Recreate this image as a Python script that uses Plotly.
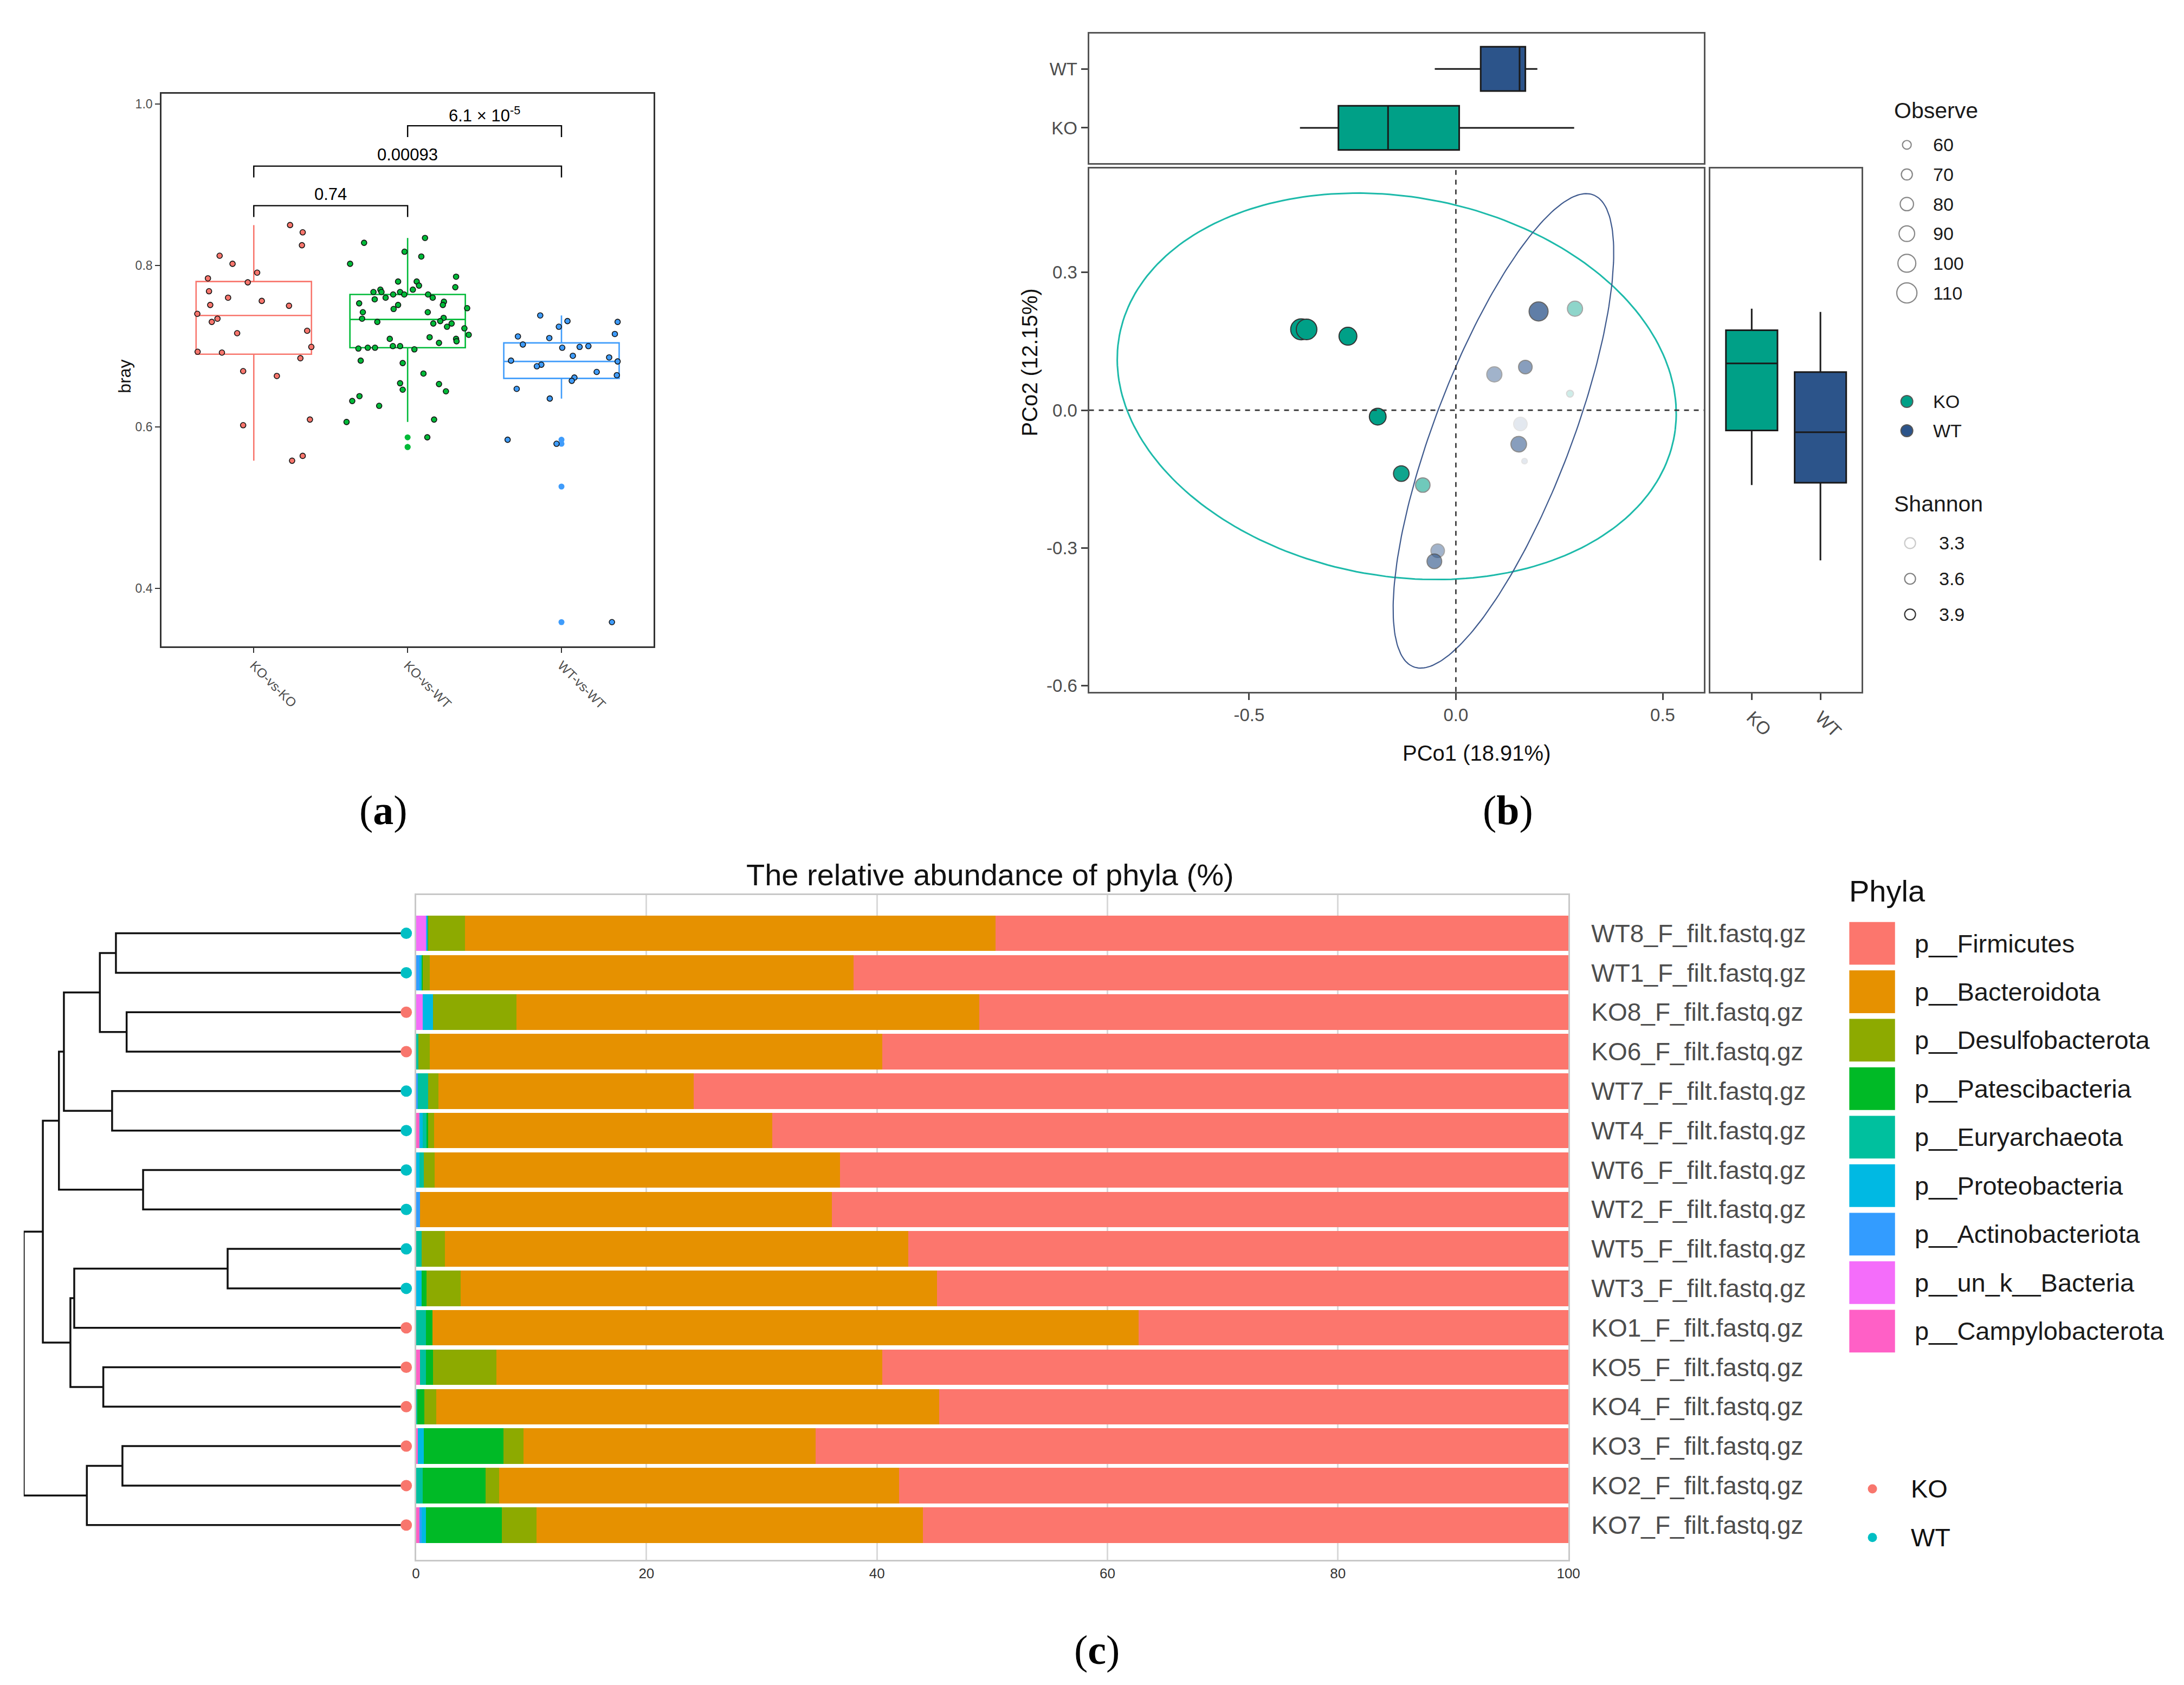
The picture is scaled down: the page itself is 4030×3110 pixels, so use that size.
import numpy as np
import plotly.graph_objects as go

W, H = 4030, 3110
FONT = "Liberation Sans"
GRAY = "#4D4D4D"

def dx(a, b):
    return [a / W, b / W]

def dy(top, bottom):
    return [1 - bottom / H, 1 - top / H]

# ---------------- Panel (a) data ----------------
a_groups = ["KO-vs-KO", "KO-vs-WT", "WT-vs-WT"]
a_colors = ["#F8766D", "#00BA38", "#3F9CFB"]
a_q1 = [0.690, 0.698, 0.660]
a_med = [0.738, 0.733, 0.681]
a_q3 = [0.780, 0.764, 0.704]
a_lo = [0.558, 0.606, 0.635]
a_hi = [0.850, 0.834, 0.738]

koko_dx = [0.236, 0.318, 0.313, -0.222, -0.138, 0.022, -0.298, -0.039, -0.291, -0.167, 0.052, -0.283, 0.229, -0.367,
           -0.236, -0.273, 0.347, -0.108, 0.374, -0.365, -0.207, 0.303, -0.069, 0.150, 0.365, -0.069, 0.318, 0.249]
koko_y = [0.850, 0.841, 0.825, 0.812, 0.802, 0.791, 0.784, 0.779, 0.768, 0.760, 0.756, 0.751, 0.750, 0.740,
          0.734, 0.730, 0.719, 0.716, 0.699, 0.693, 0.692, 0.685, 0.669, 0.663, 0.609, 0.602, 0.564, 0.558]
kowt_dx = [0.113, -0.283, -0.020, 0.089, -0.374, 0.315, -0.062, 0.059, 0.074, 0.310, 0.034, -0.177, -0.222, -0.170,
           -0.049, -0.094, -0.022, 0.133, 0.163, -0.143, -0.214, 0.236, -0.315, 0.229, -0.062, -0.091, 0.387, -0.291,
           0.131, 0.234, -0.296, -0.197, 0.212, 0.167, 0.286, 0.256, 0.369, 0.397, -0.116, 0.143, 0.315, 0.318, 0.204,
           -0.096, -0.049, -0.320, -0.259, -0.212, 0.044, -0.305, -0.032, 0.103, -0.049, 0.204, -0.032, 0.249, -0.313,
           -0.360, -0.185, -0.397, 0.172, 0.128]
kowt_y = [0.834, 0.828, 0.817, 0.811, 0.802, 0.786, 0.780, 0.780, 0.775, 0.773, 0.770, 0.770, 0.767, 0.767,
          0.767, 0.764, 0.764, 0.764, 0.760, 0.760, 0.758, 0.755, 0.753, 0.751, 0.751, 0.746, 0.747, 0.742,
          0.742, 0.735, 0.734, 0.730, 0.731, 0.728, 0.728, 0.724, 0.722, 0.714, 0.709, 0.711, 0.709, 0.706, 0.704,
          0.700, 0.700, 0.697, 0.698, 0.698, 0.696, 0.682, 0.679, 0.666, 0.654, 0.653, 0.646, 0.644, 0.638,
          0.632, 0.626, 0.606, 0.609, 0.587]
wtwt_dx = [-0.138, 0.039, 0.365, -0.017, 0.347, -0.283, -0.079, -0.251, 0.005, 0.118, 0.175, 0.074, 0.310, -0.328,
           0.365, -0.131, -0.160, 0.229, 0.360, 0.084, 0.067, -0.291, -0.076, -0.350, -0.032, 0.328]
wtwt_y = [0.738, 0.731, 0.730, 0.724, 0.715, 0.712, 0.710, 0.702, 0.698, 0.699, 0.700, 0.688, 0.686, 0.682,
          0.681, 0.677, 0.675, 0.668, 0.664, 0.661, 0.657, 0.647, 0.635, 0.584, 0.579, 0.358]
a_jit_dx = [koko_dx, kowt_dx, wtwt_dx]
a_jit_y = [koko_y, kowt_y, wtwt_y]
a_out_group = [1, 1, 1, 2, 2, 2, 2]
a_out_y = [0.587, 0.575, 0.575, 0.584, 0.579, 0.526, 0.358]

# significance brackets: (group from, group to, bracket y, label)
br_from = [0, 0, 1]
br_to = [1, 2, 2]
br_y = [0.874, 0.923, 0.973]
br_text = ["0.74", "0.00093", "6.1 \u00d7 10<sup>-5</sup>"]

# ---------------- Panel (b) data ----------------
b_groups = ["KO", "WT"]
b_colors = ["#00A087", "#2C548A"]
ell_colors = ["#1DBAAA", "#3F5A8E"]
ko_pc1 = [-0.374, -0.361, -0.261, -0.189, -0.132, -0.080, 0.288, 0.276]
ko_pc2 = [0.176, 0.176, 0.161, -0.014, -0.138, -0.163, 0.221, 0.036]
ko_obs = [114, 112, 100, 95, 90, 85, 88, 52]
ko_sha = [3.9, 3.9, 3.9, 3.9, 3.85, 3.55, 3.45, 3.25]
wt_pc1 = [0.200, 0.168, 0.093, 0.156, 0.152, 0.166, -0.044, -0.052]
wt_pc2 = [0.215, 0.094, 0.078, -0.030, -0.074, -0.111, -0.306, -0.329]
wt_obs = [105, 81, 88, 81, 90, 46, 81, 86]
wt_sha = [3.7, 3.55, 3.45, 3.2, 3.55, 3.2, 3.45, 3.6]
# confidence ellipses: centre, semi-axes, rotation (deg)
ell_cx = [-0.143, 0.115]
ell_cy = [0.052, -0.045]
ell_a = [0.680, 0.558]
ell_b = [0.414, 0.163]
ell_rot = [-8.0, 66.7]
# marginal box stats  (PCo1 by group, PCo2 by group)
pc1_q1 = [-0.284, 0.060]; pc1_med = [-0.164, 0.154]; pc1_q3 = [0.008, 0.168]
pc1_lo = [-0.377, -0.051]; pc1_hi = [0.286, 0.197]
pc2_q1 = [-0.044, -0.158]; pc2_med = [0.102, -0.048]; pc2_q3 = [0.174, 0.083]
pc2_lo = [-0.163, -0.327]; pc2_hi = [0.221, 0.214]
obs_legend = [60, 70, 80, 90, 100, 110]
sha_legend = [3.3, 3.6, 3.9]

def obs_size(o):
    return 12 + (np.asarray(o, dtype=float) - 50) * 0.42

def sha_alpha(s):
    return np.clip((np.asarray(s, dtype=float) - 3.1) / 0.8, 0.1, 1.0)

# ---------------- Panel (c) data ----------------
samples = ["WT8_F_filt.fastq.gz", "WT1_F_filt.fastq.gz", "KO8_F_filt.fastq.gz", "KO6_F_filt.fastq.gz",
           "WT7_F_filt.fastq.gz", "WT4_F_filt.fastq.gz", "WT6_F_filt.fastq.gz", "WT2_F_filt.fastq.gz",
           "WT5_F_filt.fastq.gz", "WT3_F_filt.fastq.gz", "KO1_F_filt.fastq.gz", "KO5_F_filt.fastq.gz",
           "KO4_F_filt.fastq.gz", "KO3_F_filt.fastq.gz", "KO2_F_filt.fastq.gz", "KO7_F_filt.fastq.gz"]
sample_group = [s[:2] for s in samples]
phyla = ["p__Firmicutes", "p__Bacteroidota", "p__Desulfobacterota", "p__Patescibacteria", "p__Euryarchaeota",
         "p__Proteobacteria", "p__Actinobacteriota", "p__un_k__Bacteria", "p__Campylobacterota"]
phyla_colors = ["#FC766D", "#E69100", "#8DAA00", "#00BA26", "#00C09E", "#00B9E3", "#339CFF", "#F46DFA", "#FF60C6"]
firmicutes = [49.70, 62.03, 51.10, 59.54, 75.90, 69.10, 63.20, 63.90, 57.30, 54.80, 37.30, 59.54, 54.60, 65.30, 58.10, 56.00]
bacteroidota = [46.05, 36.77, 40.20, 39.26, 22.15, 29.35, 35.20, 35.75, 40.20, 41.30, 61.25, 33.46, 43.65, 25.39, 34.70, 33.53]
desulfobacterota = [3.20, 0.60, 7.20, 1.00, 0.90, 0.50, 0.90, 0.00, 2.00, 3.00, 0.00, 5.50, 1.00, 1.70, 1.16, 3.00]
patescibacteria = [0.05, 0.10, 0.00, 0.00, 0.00, 0.15, 0.00, 0.00, 0.00, 0.40, 0.60, 0.65, 0.65, 6.93, 5.46, 6.62]
euryarchaeota = [0.00, 0.00, 0.00, 0.20, 0.90, 0.30, 0.40, 0.00, 0.50, 0.00, 0.85, 0.50, 0.10, 0.00, 0.58, 0.00]
proteobacteria = [0.05, 0.20, 0.90, 0.00, 0.00, 0.30, 0.30, 0.00, 0.00, 0.50, 0.00, 0.00, 0.00, 0.50, 0.00, 0.35]
actinobacteriota = [0.10, 0.30, 0.00, 0.00, 0.15, 0.00, 0.00, 0.35, 0.00, 0.00, 0.00, 0.00, 0.00, 0.00, 0.00, 0.20]
unk_bacteria = [0.85, 0.00, 0.60, 0.00, 0.00, 0.00, 0.00, 0.00, 0.00, 0.00, 0.00, 0.00, 0.00, 0.00, 0.00, 0.00]
campylobacterota = [0.00, 0.00, 0.00, 0.00, 0.00, 0.30, 0.00, 0.00, 0.00, 0.00, 0.00, 0.35, 0.00, 0.18, 0.00, 0.30]
phyla_values = [firmicutes, bacteroidota, desulfobacterota, patescibacteria, euryarchaeota,
                proteobacteria, actinobacteriota, unk_bacteria, campylobacterota]
c_group_colors = {"KO": "#F8766D", "WT": "#00BFC4"}
# dendrogram merges (leaves 0..15 = rows; new nodes numbered from 16)
merge_left = [0, 2, 16, 4, 18, 6, 20, 8, 23, 11, 24, 22, 13, 28, 27]
merge_right = [1, 3, 17, 5, 19, 7, 21, 9, 10, 12, 25, 26, 14, 15, 29]
merge_height = [0.759, 0.731, 0.801, 0.769, 0.895, 0.688, 0.908, 0.467, 0.868, 0.792, 0.878, 0.950, 0.742, 0.835, 1.0]

fig = go.Figure()

# ================= Panel (a) =================
for g in range(3):
    fig.add_trace(go.Box(x=[g], q1=[a_q1[g]], median=[a_med[g]], q3=[a_q3[g]], lowerfence=[a_lo[g]],
                         upperfence=[a_hi[g]], width=0.75, whiskerwidth=0, fillcolor="rgba(0,0,0,0)",
                         line=dict(color=a_colors[g], width=2.6), boxpoints=False, hoverinfo="skip",
                         showlegend=False, xaxis="x", yaxis="y"))
fig.add_trace(go.Scatter(x=a_out_group, y=a_out_y, mode="markers", showlegend=False, xaxis="x", yaxis="y",
                         marker=dict(size=11, color=[a_colors[g] for g in a_out_group], line=dict(width=0))))
for g in range(3):
    fig.add_trace(go.Scatter(x=[g + d for d in a_jit_dx[g]], y=a_jit_y[g], mode="markers", showlegend=False,
                             xaxis="x", yaxis="y",
                             marker=dict(size=10, color=a_colors[g], line=dict(color="#111111", width=1.6))))

shapes = []
annotations = []
tick = 0.014
for f, t, yv, txt in zip(br_from, br_to, br_y, br_text):
    shapes.append(dict(type="path", xref="x", yref="y",
                       path=f"M {f},{yv - tick} L {f},{yv} L {t},{yv} L {t},{yv - tick}",
                       line=dict(color="black", width=2.4)))
    annotations.append(dict(x=(f + t) / 2, y=yv + 0.014, xref="x", yref="y", text=txt, showarrow=False,
                            font=dict(size=31, color="black"), yanchor="middle"))

# ================= Panel (b) =================
for g in range(2):
    fig.add_trace(go.Box(y=[g], q1=[pc1_q1[g]], median=[pc1_med[g]], q3=[pc1_q3[g]], lowerfence=[pc1_lo[g]],
                         upperfence=[pc1_hi[g]], orientation="h", width=0.75, whiskerwidth=0,
                         fillcolor=b_colors[g], line=dict(color="#1A1A1A", width=3), boxpoints=False,
                         hoverinfo="skip", showlegend=False, xaxis="x2", yaxis="y2"))
t = np.linspace(0, 2 * np.pi, 240)
for g in range(2):
    th = np.deg2rad(ell_rot[g])
    ex = ell_cx[g] + ell_a[g] * np.cos(th) * np.cos(t) - ell_b[g] * np.sin(th) * np.sin(t)
    ey = ell_cy[g] + ell_a[g] * np.sin(th) * np.cos(t) + ell_b[g] * np.cos(th) * np.sin(t)
    fig.add_trace(go.Scatter(x=ex, y=ey, mode="lines", line=dict(color=ell_colors[g], width=3 if g == 0 else 2.2),
                             showlegend=False, hoverinfo="skip", xaxis="x3", yaxis="y3"))
for pc1, pc2, obs, sha, col in [(ko_pc1, ko_pc2, ko_obs, ko_sha, b_colors[0]),
                                (wt_pc1, wt_pc2, wt_obs, wt_sha, b_colors[1])]:
    fig.add_trace(go.Scatter(x=pc1, y=pc2, mode="markers", showlegend=False, xaxis="x3", yaxis="y3",
                             marker=dict(size=obs_size(obs), color=col, opacity=sha_alpha(sha),
                                         line=dict(color="#333333", width=2))))
for g in range(2):
    fig.add_trace(go.Box(x=[g], q1=[pc2_q1[g]], median=[pc2_med[g]], q3=[pc2_q3[g]], lowerfence=[pc2_lo[g]],
                         upperfence=[pc2_hi[g]], width=0.75, whiskerwidth=0, fillcolor=b_colors[g],
                         line=dict(color="#1A1A1A", width=3), boxpoints=False, hoverinfo="skip",
                         showlegend=False, xaxis="x4", yaxis="y4"))
shapes.append(dict(type="line", xref="x3", yref="y3 domain", x0=0, x1=0, y0=0, y1=1,
                   line=dict(color="#333333", width=2.6, dash="dash")))
shapes.append(dict(type="line", xref="x3 domain", yref="y3", x0=0, x1=1, y0=0, y1=0,
                   line=dict(color="#333333", width=2.6, dash="dash")))

# ================= Panel (c) =================
rows = list(range(len(samples)))
for i in reversed(range(len(phyla))):
    fig.add_trace(go.Bar(y=rows, x=phyla_values[i], orientation="h", width=0.9,
                         marker=dict(color=phyla_colors[i], line=dict(width=0)), name=phyla[i],
                         showlegend=False, xaxis="x5", yaxis="y5"))
node_h = [0.0] * len(samples)
node_y = [float(r) for r in rows]
dxs, dys = [], []
for l, r, h in zip(merge_left, merge_right, merge_height):
    dxs += [node_h[l], h, h, node_h[r], None]
    dys += [node_y[l], node_y[l], node_y[r], node_y[r], None]
    node_h.append(h)
    node_y.append((node_y[l] + node_y[r]) / 2)
fig.add_trace(go.Scatter(x=dxs, y=dys, mode="lines", line=dict(color="#111111", width=3.5),
                         showlegend=False, hoverinfo="skip", xaxis="x6", yaxis="y6", cliponaxis=False))
fig.add_trace(go.Scatter(x=[0.0] * len(samples), y=rows, mode="markers", showlegend=False, xaxis="x6", yaxis="y6",
                         cliponaxis=False,
                         marker=dict(size=21, color=[c_group_colors[g] for g in sample_group])))

# ================= Legends (overlay pixel axis) =================
obs_y0, obs_step = 260, 54.8
fig.add_trace(go.Scatter(x=[3529] * len(obs_legend), y=[obs_y0 + i * obs_step for i in range(len(obs_legend))],
                         mode="markers", showlegend=False, xaxis="x7", yaxis="y7",
                         marker=dict(size=obs_size(obs_legend), color="white", line=dict(color="#555555", width=2.2))))
for i, o in enumerate(obs_legend):
    annotations.append(dict(x=3576, y=obs_y0 + i * obs_step, xref="x7", yref="y7", text=str(o), showarrow=False,
                            xanchor="left", yanchor="middle", font=dict(size=34, color="#1A1A1A")))
annotations.append(dict(x=3503, y=196, xref="x7", yref="y7", text="Observe", showarrow=False, xanchor="left",
                        yanchor="middle", font=dict(size=41, color="#1A1A1A")))
grp_y0, grp_step = 735, 54
fig.add_trace(go.Scatter(x=[3529, 3529], y=[grp_y0, grp_y0 + grp_step], mode="markers", showlegend=False,
                         xaxis="x7", yaxis="y7",
                         marker=dict(size=22, color=b_colors, line=dict(color="#555555", width=2))))
for i, g in enumerate(b_groups):
    annotations.append(dict(x=3576, y=grp_y0 + i * grp_step, xref="x7", yref="y7", text=g, showarrow=False,
                            xanchor="left", yanchor="middle", font=dict(size=34, color="#1A1A1A")))
annotations.append(dict(x=3503, y=924, xref="x7", yref="y7", text="Shannon", showarrow=False, xanchor="left",
                        yanchor="middle", font=dict(size=41, color="#1A1A1A")))
sha_y0, sha_step = 997, 66
fig.add_trace(go.Scatter(x=[3535] * len(sha_legend), y=[sha_y0 + i * sha_step for i in range(len(sha_legend))],
                         mode="markers", showlegend=False, xaxis="x7", yaxis="y7",
                         marker=dict(size=20, color="white", opacity=sha_alpha(sha_legend),
                                     line=dict(color="#333333", width=2.2))))
for i, s in enumerate(sha_legend):
    annotations.append(dict(x=3587, y=sha_y0 + i * sha_step, xref="x7", yref="y7", text=f"{s:.1f}",
                            showarrow=False, xanchor="left", yanchor="middle", font=dict(size=34, color="#1A1A1A")))

ph_top, ph_step, sw_h = 1698, 89.7, 79
for i, p in enumerate(phyla):
    y0 = ph_top + i * ph_step
    shapes.append(dict(type="rect", xref="x7", yref="y7", x0=3422, x1=3507, y0=y0, y1=y0 + sw_h,
                       fillcolor=phyla_colors[i], line=dict(width=0)))
    annotations.append(dict(x=3541, y=y0 + sw_h / 2, xref="x7", yref="y7", text=p, showarrow=False,
                            xanchor="left", yanchor="middle", font=dict(size=47, color="#1A1A1A")))
annotations.append(dict(x=3420, y=1641, xref="x7", yref="y7", text="Phyla", showarrow=False, xanchor="left",
                        yanchor="middle", font=dict(size=56, color="#111111")))
cg_y0, cg_step = 2747, 90
cgroups = ["KO", "WT"]
fig.add_trace(go.Scatter(x=[3465, 3465], y=[cg_y0, cg_y0 + cg_step], mode="markers", showlegend=False,
                         xaxis="x7", yaxis="y7",
                         marker=dict(size=17, color=[c_group_colors[g] for g in cgroups])))
for i, g in enumerate(cgroups):
    annotations.append(dict(x=3534, y=cg_y0 + i * cg_step, xref="x7", yref="y7", text=g, showarrow=False,
                            xanchor="left", yanchor="middle", font=dict(size=47, color="#111111")))

annotations += [
    dict(x=1825, y=1611, xref="x7", yref="y7", text="The relative abundance of phyla (%)", showarrow=False,
         xanchor="center", yanchor="middle", font=dict(size=56, color="#111111")),
    dict(x=217, y=688, xref="x7", yref="y7", text="bray", showarrow=False, textangle=-90,
         xanchor="center", yanchor="middle", font=dict(size=32, color="#111111")),
    dict(x=2729, y=1386, xref="x7", yref="y7", text="PCo1 (18.91%)", showarrow=False,
         xanchor="center", yanchor="middle", font=dict(size=40, color="#111111")),
    dict(x=1899, y=663, xref="x7", yref="y7", text="PCo2 (12.15%)", showarrow=False, textangle=-90,
         xanchor="center", yanchor="middle", font=dict(size=40, color="#111111")),
]
for lab, (px, py) in zip(["a", "b", "c"], [(698, 1491), (2788, 1491), (2024, 3045)]):
    annotations.append(dict(x=px, y=py, xref="x7", yref="y7", text=f"(<b>{lab}</b>)", showarrow=False,
                            xanchor="center", yanchor="middle",
                            font=dict(size=76, color="black", family="Liberation Serif")))

frame_a = dict(showline=True, mirror=True, linecolor="#333333", linewidth=2.5, showgrid=False, zeroline=False)
frame_b = dict(showline=True, mirror=True, linecolor="#555555", linewidth=3, showgrid=False, zeroline=False)
tickf_a = dict(size=24, color=GRAY)
tickf_b = dict(size=33, color=GRAY)
hidden = dict(visible=False, showgrid=False, zeroline=False)

fig.update_layout(
    width=W, height=H, margin=dict(l=0, r=0, t=0, b=0),
    paper_bgcolor="white", plot_bgcolor="rgba(0,0,0,0)",
    font=dict(family=FONT, color="#111111"),
    barmode="stack", boxmode="overlay", showlegend=False,
    xaxis=dict(domain=dx(285, 1200), anchor="y", range=[-0.6, 2.6], tickvals=[0, 1, 2], ticktext=a_groups,
               tickangle=45, ticks="outside", ticklen=9, tickwidth=2, tickcolor="#333333", tickfont=tickf_a,
               **frame_a),
    yaxis=dict(domain=dy(165, 1188), anchor="x", range=[0.328, 1.013], tickvals=[0.4, 0.6, 0.8, 1.0],
               ticktext=["0.4", "0.6", "0.8", "1.0"], ticks="outside", ticklen=9, tickwidth=2,
               tickcolor="#333333", tickfont=dict(size=23, color=GRAY), **frame_a),
    xaxis2=dict(domain=dx(2009, 3152), anchor="y2", range=[-0.887, 0.600], showticklabels=False, ticks="",
                **frame_b),
    yaxis2=dict(domain=dy(54, 294), anchor="x2", range=[-0.6, 1.6], tickvals=[0, 1], ticktext=b_groups,
                ticks="outside", ticklen=12, tickwidth=3, tickcolor="#444444", tickfont=tickf_b, **frame_b),
    xaxis3=dict(domain=dx(2009, 3152), anchor="y3", range=[-0.887, 0.600], tickvals=[-0.5, 0, 0.5],
                ticktext=["-0.5", "0.0", "0.5"], ticks="outside", ticklen=12, tickwidth=3, tickcolor="#444444",
                tickfont=tickf_b, **frame_b),
    yaxis3=dict(domain=dy(304, 1272), anchor="x3", range=[-0.613, 0.526], tickvals=[-0.6, -0.3, 0, 0.3],
                ticktext=["-0.6", "-0.3", "0.0", "0.3"], ticks="outside", ticklen=12, tickwidth=3,
                tickcolor="#444444", tickfont=tickf_b, **frame_b),
    xaxis4=dict(domain=dx(3164, 3445), anchor="y4", range=[-0.6, 1.6], tickvals=[0, 1], ticktext=b_groups,
                tickangle=45, ticks="outside", ticklen=12, tickwidth=3, tickcolor="#444444", tickfont=tickf_b,
                **frame_b),
    yaxis4=dict(domain=dy(304, 1272), anchor="x4", range=[-0.613, 0.526], showticklabels=False, ticks="",
                **frame_b),
    xaxis5=dict(domain=dx(758, 2900), anchor="y5", range=[0, 100], tickvals=[0, 20, 40, 60, 80, 100],
                ticktext=["0", "20", "40", "60", "80", "100"], ticks="", tickfont=dict(size=26, color="#333333"),
                showgrid=True, gridcolor="#D9D9D9", gridwidth=3, zeroline=False,
                showline=True, mirror=True, linecolor="#C8C8C8", linewidth=3),
    yaxis5=dict(domain=dy(1648, 2878), anchor="x5", range=[15.877, -0.973], side="right", tickvals=rows,
                ticktext=samples, ticks="outside", ticklen=30, tickcolor="rgba(0,0,0,0)",
                tickfont=dict(size=46, color=GRAY), showgrid=False, zeroline=False,
                showline=True, mirror=True, linecolor="#C8C8C8", linewidth=3),
    xaxis6=dict(domain=dx(29, 740), anchor="y6", range=[1.0, 0.0], **hidden),
    yaxis6=dict(domain=dy(1648, 2878), anchor="x6", range=[15.877, -0.973], **hidden),
    xaxis7=dict(domain=[0, 1], anchor="y7", range=[0, W], **hidden),
    yaxis7=dict(domain=[0, 1], anchor="x7", range=[H, 0], **hidden),
    shapes=shapes, annotations=annotations,
)

fig.write_html("out.html")
